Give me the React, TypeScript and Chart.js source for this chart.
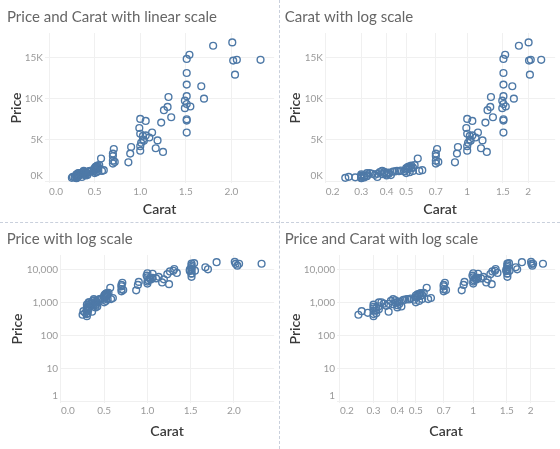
import React, { useEffect, useRef } from 'react';
import { Chart, registerables } from 'chart.js';

Chart.register(...registerables);

// Diamond sample: carat weight and price (USD), one entry per stone
const carat: number[] = [
  1.80, 2.01, 1.54, 1.51, 2.02, 2.06, 2.32, 2.04, 1.51, 1.51,
  1.67, 1.70, 1.31, 1.51, 1.49, 1.51, 1.55, 1.49, 1.30, 1.26,
  1.34, 1.23, 1.51, 1.51, 1.51, 1.00, 1.06, 0.99, 1.13, 1.00,
  1.06, 1.03, 1.10, 1.03, 1.04, 1.01, 1.19, 1.00, 0.90, 1.17,
  1.00, 1.25, 0.89, 0.87, 0.71, 0.70, 0.70, 0.70, 0.72, 0.70,
  0.57, 0.60,
  0.25, 0.26, 0.28, 0.30, 0.30, 0.30, 0.30, 0.30, 0.30, 0.31,
  0.31, 0.31, 0.32, 0.32, 0.32, 0.33, 0.34, 0.35, 0.36, 0.36,
  0.37, 0.38, 0.38, 0.39, 0.39, 0.40, 0.40, 0.40, 0.41, 0.41,
  0.42, 0.43, 0.44, 0.45, 0.46, 0.47, 0.49, 0.50, 0.50, 0.50,
  0.51, 0.51, 0.52, 0.52, 0.52, 0.53, 0.53, 0.54, 0.54, 0.55,
  0.58,
];
const price: number[] = [
  16400, 16800, 15300, 14800, 14600, 14700, 14700, 12900, 13100, 11700,
  11500, 10000, 10200, 10300, 9750, 9350, 9050, 8850, 9000, 8600,
  7750, 7100, 7500, 7350, 5900, 7550, 7300, 6450, 5900, 5750,
  5550, 5500, 5300, 5050, 4900, 4650, 4950, 4250, 4150, 4000,
  3700, 3550, 3350, 2300, 3900, 3350, 3050, 2500, 2350, 2150,
  2750, 1350,
  420, 540, 480, 380, 440, 550, 650, 730, 850, 560,
  680, 470, 620, 760, 990, 1000, 910, 780, 520, 900,
  1100, 1250, 880, 980, 1150, 820, 700, 1000, 900, 1050,
  750, 1180, 1200, 1260, 1220, 1300, 1200, 1000, 1400, 1600,
  1750, 1500, 1650, 1800, 1100, 1550, 1900, 1650, 1250, 1950,
  1250,
];

const linearCaratTicks = [0, 0.5, 1, 1.5, 2];
const logCaratTicks = [0.2, 0.3, 0.4, 0.5, 0.7, 1, 1.5, 2];
const linearPriceTicks = [0, 5000, 10000, 15000];
const logPriceTicks = [1, 10, 100, 1000, 10000];

const FONT = 'Lato, "Open Sans", sans-serif';
const MARK = '#4e79a7';
const GRID = '#f0f0f0';
const TICK_TEXT = '#9a9a9a';

type Panel = {
  title: string;
  xLog: boolean;
  yLog: boolean;
  left: number;
  top: number;
  width: number;
  height: number;
  padLeft: number;
  padRight: number;
  yAxisWidth: number;
  xAxisHeight: number;
  titleTop: number;
  titleBottom: number;
  yTitleGap: number;
  xTitleGap: number;
  xTickGap: number;
  xMin: number;
  xMax: number;
  yMin: number;
  yMax: number;
};

const panels: Panel[] = [
  {
    title: 'Price and Carat with linear scale', xLog: false, yLog: false,
    left: 0, top: 0, width: 279, height: 222,
    padLeft: 7, padRight: 1, yAxisWidth: 38, xAxisHeight: 39,
    titleTop: 8, titleBottom: 7, yTitleGap: 1, xTitleGap: 4, xTickGap: 3,
    xMin: -0.045, xMax: 2.47, yMin: -205, yMax: 17940,
  },
  {
    title: 'Carat with log scale', xLog: true, yLog: false,
    left: 281, top: 0, width: 279, height: 222,
    padLeft: 3.7, padRight: 2, yAxisWidth: 40.3, xAxisHeight: 39,
    titleTop: 8, titleBottom: 7, yTitleGap: 2.5, xTitleGap: 4, xTickGap: 3,
    xMin: 0.1985, xMax: 2.72, yMin: -205, yMax: 17940,
  },
  {
    title: 'Price with log scale', xLog: false, yLog: true,
    left: 0, top: 224, width: 279, height: 225,
    padLeft: 6.7, padRight: 1, yAxisWidth: 53.3, xAxisHeight: 46,
    titleTop: 6.4, titleBottom: 6.6, yTitleGap: 2.2, xTitleGap: 9.5, xTickGap: 1.5,
    xMin: -0.011, xMax: 2.466, yMin: 0.89, yMax: 27100,
  },
  {
    title: 'Price and Carat with log scale', xLog: true, yLog: true,
    left: 281, top: 224, width: 279, height: 225,
    padLeft: 3.7, padRight: 2, yAxisWidth: 52.3, xAxisHeight: 46,
    titleTop: 6.4, titleBottom: 6.6, yTitleGap: 2.5, xTitleGap: 9.5, xTickGap: 1.5,
    xMin: 0.193, xMax: 2.69, yMin: 0.89, yMax: 27100,
  },
];

const fmtCaratLinear = (v: number) => v.toFixed(1);
const fmtCaratLog = (v: number) => String(v);
const fmtPriceK = (v: number) => `${v / 1000}K`;
const fmtPriceComma = (v: number) => v.toLocaleString('en-US');

function buildConfig(p: Panel): any {
  const xTicks = p.xLog ? logCaratTicks : linearCaratTicks;
  const yTicks = p.yLog ? logPriceTicks : linearPriceTicks;
  const fmtX = p.xLog ? fmtCaratLog : fmtCaratLinear;
  const fmtY = p.yLog ? fmtPriceComma : fmtPriceK;

  return {
    type: 'scatter',
    data: {
      datasets: [
        {
          data: carat.map((c, i) => ({ x: c, y: price[i] })),
          pointRadius: 3.4,
          pointHoverRadius: 3.4,
          pointBorderWidth: 1.4,
          pointBorderColor: MARK,
          pointBackgroundColor: 'rgba(255,255,255,0)',
          showLine: false,
        },
      ],
    },
    options: {
      responsive: false,
      animation: false,
      devicePixelRatio: 1,
      layout: { padding: { left: p.padLeft, right: p.padRight, top: 0, bottom: 0 } },
      plugins: {
        legend: { display: false },
        tooltip: { enabled: false },
        title: {
          display: true,
          text: p.title,
          align: 'start',
          color: '#666666',
          font: { family: FONT, size: 15, weight: 'normal' },
          padding: { top: p.titleTop, bottom: p.titleBottom },
        },
      },
      scales: {
        x: {
          type: p.xLog ? 'logarithmic' : 'linear',
          min: p.xMin,
          max: p.xMax,
          // the trailing tick at the axis end carries no label; it lets the
          // last real label stay centred while the first one hugs the pane edge
          afterBuildTicks: (s: any) => {
            s.ticks = [...xTicks, p.xMax].map((value) => ({ value }));
          },
          afterFit: (s: any) => {
            s.height = p.xAxisHeight;
          },
          ticks: {
            autoSkip: false,
            maxRotation: 0,
            minRotation: 0,
            align: 'inner',
            padding: p.xTickGap,
            color: TICK_TEXT,
            font: { family: FONT, size: 10 },
            callback: (_v: any, i: number) => (i < xTicks.length ? fmtX(xTicks[i]) : ''),
          },
          grid: {
            drawTicks: false,
            lineWidth: 1,
            color: (ctx: any) => (ctx.index >= xTicks.length ? 'rgba(0,0,0,0)' : GRID),
          },
          border: { display: false },
          title: {
            display: true,
            text: 'Carat',
            color: '#3a3a3a',
            font: { family: FONT, size: 14, weight: '600' },
            padding: { top: 0, bottom: p.xTitleGap },
          },
        },
        y: {
          type: p.yLog ? 'logarithmic' : 'linear',
          min: p.yMin,
          max: p.yMax,
          afterBuildTicks: (s: any) => {
            s.ticks = yTicks.map((value) => ({ value }));
          },
          afterFit: (s: any) => {
            s.width = p.yAxisWidth;
          },
          ticks: {
            autoSkip: false,
            padding: 2,
            color: TICK_TEXT,
            font: { family: FONT, size: 10 },
            // the lowest label is lifted so it stays inside the pane
            callback: (_v: any, i: number) => {
              const s = fmtY(yTicks[i]);
              return i === 0 ? [s, ''] : s;
            },
          },
          grid: { drawTicks: false, lineWidth: 1, color: GRID },
          border: { display: false },
          title: {
            display: true,
            text: 'Price',
            color: '#3a3a3a',
            font: { family: FONT, size: 14, weight: '600' },
            padding: { top: p.yTitleGap, bottom: 0 },
          },
        },
      },
    },
  };
}

function ScatterPanel({ panel }: { panel: Panel }) {
  const ref = useRef<HTMLCanvasElement>(null);
  useEffect(() => {
    if (!ref.current) return;
    const chart = new Chart(ref.current, buildConfig(panel));
    return () => chart.destroy();
  }, [panel]);
  return (
    <canvas
      ref={ref}
      width={panel.width}
      height={panel.height}
      style={{
        position: 'absolute',
        left: panel.left,
        top: panel.top,
        width: panel.width,
        height: panel.height,
      }}
    />
  );
}

export default function App() {
  return (
    <div
      style={{
        position: 'absolute',
        left: 0,
        top: 0,
        width: 560,
        height: 449,
        background: '#ffffff',
        overflow: 'hidden',
      }}
    >
      {panels.map((p) => (
        <ScatterPanel key={p.title} panel={p} />
      ))}
      <div
        style={{
          position: 'absolute',
          left: 279,
          top: 0,
          width: 0,
          height: 449,
          borderLeft: '1px dashed #c9d0dc',
        }}
      />
      <div
        style={{
          position: 'absolute',
          left: 0,
          top: 222,
          width: 560,
          height: 0,
          borderTop: '1px dashed #c9d0dc',
        }}
      />
    </div>
  );
}
